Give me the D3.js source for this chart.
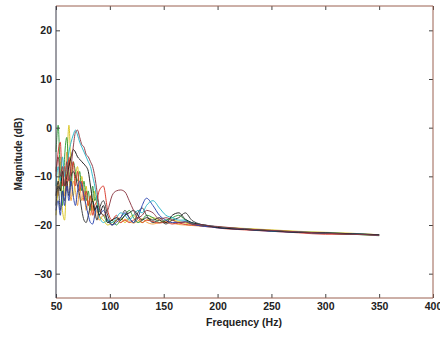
<!DOCTYPE html>
<html><head><meta charset="utf-8">
<script src="https://cdn.jsdelivr.net/npm/d3@7"></script>
<style>
html,body{margin:0;padding:0;background:#fff;}
svg{display:block;}
text{font-family:Arial,"Liberation Sans",sans-serif;font-weight:bold;fill:#222;}
</style></head>
<body>
<svg id="chart" width="440" height="342"></svg>
<script>
const freqs = [50,52,54,56,58,60,62,64,66,68,70,72,74,76,78,80,82,84,86,88,90,
  94,98,102,106,110,114,118,122,126,130,134,
  140,146,152,158,164,170,176,182,188,194,200,
  225,250,275,300,325,350];

const seriesMaroon = [-9,-6,-10,-8,-12,-7,-11,-8,-4,-1,-0.5,-2,-3.5,-4,-5.5,-6,-7,-8,-10,-13,-16,
  -18,-17,-14,-13,-12.8,-13.2,-15,-17,-18.5,-18,-17,
  -17.5,-18.8,-18.5,-19,-19.5,-19.4,-19.8,-19.9,-20,-20.2,-20.3,
  -20.8,-21.1,-21.4,-21.7,-21.9,-22.1];
const seriesBlack = [-14,-11,-13,-9,-12,-10,-8,-6,-4.5,-5,-6,-6.5,-7,-7.5,-8,-9,-12,-15,-17,-16,-18,
  -16,-19.5,-19,-18.5,-19,-18,-17.5,-17,-18,-19,-18.5,
  -19,-18.5,-19.5,-18,-17.5,-18.8,-19.5,-19.8,-20,-20.3,-20.5,
  -20.9,-21.2,-21.5,-21.6,-21.8,-22.0];
const seriesDark = [-16,-12,-17,-13,-15,-11,-14,-10,-9,-10,-12,-14,-17,-19,-19.5,-18,-16,-15,-17,-19,-17,
  -15,-18,-20,-19,-18.5,-17,-18.5,-19.5,-17.5,-16.5,-18,
  -19.5,-19,-19.8,-19,-18.5,-17.5,-19,-19.7,-20.1,-20.2,-20.4,
  -20.8,-21.2,-21.5,-21.7,-21.9,-22.0];
const seriesBlue = [-17,-15,-18,-13,-16,-12,-15,-11,-14,-16,-13,-11,-12,-14,-16,-18,-19.5,-19.8,-18,-16,-18,
  -17,-19,-20,-19.5,-18.5,-17.5,-18.5,-19.5,-18.5,-16,-14.5,
  -16,-18,-19,-19.5,-19.5,-19.3,-19.8,-20.1,-20.3,-20.4,-20.6,
  -20.9,-21.3,-21.5,-21.7,-21.8,-22.1];
const seriesCyan = [-12,-8,-11,-6,-10,-8,-5,-3,-1.5,-0.5,-1.5,-3,-4,-5,-6,-7,-8,-10,-12,-15,-18,
  -19.5,-19,-19.5,-18.5,-17.5,-18,-19,-18,-17,-17.5,-16,
  -15,-16.5,-18,-18.5,-19,-19,-19.5,-19.8,-20,-20.2,-20.4,
  -20.8,-21.2,-21.4,-21.6,-21.8,-22.0];
const seriesGreen = [-5,0.5,-10,-16,-6,-2,-9,-12,-7,-9,-11,-9,-13,-11,-15,-13,-17,-12,-15,-14,-17,
  -18,-19.5,-19,-20,-19,-18,-17,-18.5,-19.5,-19,-18,
  -18.5,-19.5,-19,-18.5,-18,-19,-19.7,-20,-20.2,-20.3,-20.5,
  -20.9,-21.2,-21.5,-21.7,-21.9,-22.2];
const seriesYellow = [-18,-12,-7,-17,-19,-8,0.5,-9,-14,-10,-8,-12,-10,-14,-12,-16,-14,-17,-13,-16,-18,
  -19,-20,-19.5,-19,-18.5,-19.5,-18.5,-18,-19,-19.5,-19,
  -18.5,-19,-19.5,-19,-19.3,-19.6,-19.8,-20,-20.2,-20.3,-20.4,
  -20.7,-21.0,-21.3,-21.5,-21.7,-22.0];
const seriesRed = [-10,-5,-3,-12,-8,-13,-6,-10,-7,-12,-9,-13,-11,-15,-13,-16,-14,-18,-16,-15,-13,
  -12,-17,-19,-18,-19.5,-19,-19.5,-19,-18.5,-19.5,-19,
  -19.3,-19.6,-19.4,-19.8,-19.6,-19.9,-20,-20.1,-20.3,-20.4,-20.6,
  -21.0,-21.3,-21.6,-21.9,-21.9,-22.1];
const seriesOrange = [-8,-14,-6,-9,-14,-5,-10,-15,-11,-13,-16,-12,-15,-13,-17,-15,-18,-16,-18.5,-17,-19,
  -18,-19,-20,-19.2,-19.5,-18.8,-19.3,-19.6,-19.2,-18.7,-19.4,
  -19.8,-19.5,-19.2,-19.6,-19.9,-20,-20.1,-20.2,-20.3,-20.4,-20.5,
  -20.9,-21.2,-21.4,-21.7,-21.8,-22.0];

const xTicks = [50,100,150,200,250,300,350,400];
const yTicks = [-30,-20,-10,0,10,20];
const xLabel = "Frequency (Hz)";
const yLabel = "Magnitude (dB)";

const series = [
  {values: seriesYellow, color: "#d9c41c"},
  {values: seriesOrange, color: "#f0a040"},
  {values: seriesGreen, color: "#2f9a3a"},
  {values: seriesRed, color: "#d8382a"},
  {values: seriesDark, color: "#3a3a3a"},
  {values: seriesBlue, color: "#2a45b0"},
  {values: seriesCyan, color: "#2ab4c8"},
  {values: seriesBlack, color: "#1a1a1a"},
  {values: seriesMaroon, color: "#8c3a46"}
];

const W = 440, H = 342;
const m = {left: 56, top: 6, right: 7, bottom: 44};
const svg = d3.select("#chart");
const x = d3.scaleLinear().domain([50, 400]).range([m.left, W - m.right]);
const y = d3.scaleLinear().domain([-35, 25]).range([H - m.bottom, m.top]);

const line = d3.line().x((d, i) => x(freqs[i])).y(d => y(d)).curve(d3.curveMonotoneX);
const g = svg.append("g");
series.forEach(s => {
  g.append("path").attr("d", line(s.values)).attr("fill", "none")
    .attr("stroke", s.color).attr("stroke-width", 1).attr("stroke-opacity", 0.95);
});

const axisStyle = (sel, labels) => {
  sel.select(".domain").remove();
  sel.selectAll(".tick line").attr("stroke", "#444");
  sel.selectAll(".tick text").style("font-size", "10.5px").style("font-weight", "bold").attr("fill", "#222");
  if (!labels) sel.selectAll(".tick text").remove();
};

svg.append("g").attr("transform", `translate(0,${H - m.bottom})`)
  .call(d3.axisBottom(x).tickValues(xTicks).tickSizeInner(-4).tickSizeOuter(0).tickPadding(5))
  .call(s => axisStyle(s, true));
svg.append("g").attr("transform", `translate(0,${m.top})`)
  .call(d3.axisTop(x).tickValues(xTicks).tickSizeInner(-4).tickSizeOuter(0))
  .call(s => axisStyle(s, false));
svg.append("g").attr("transform", `translate(${m.left},0)`)
  .call(d3.axisLeft(y).tickValues(yTicks).tickSizeInner(-4).tickSizeOuter(0).tickPadding(4))
  .call(s => axisStyle(s, true));
svg.append("g").attr("transform", `translate(${W - m.right},0)`)
  .call(d3.axisRight(y).tickValues(yTicks).tickSizeInner(-4).tickSizeOuter(0))
  .call(s => axisStyle(s, false));

// frame
svg.append("line").attr("x1", m.left).attr("x2", W - m.right).attr("y1", m.top).attr("y2", m.top).attr("stroke", "#9a6050");
svg.append("line").attr("x1", W - m.right).attr("x2", W - m.right).attr("y1", m.top).attr("y2", H - m.bottom).attr("stroke", "#9a6050");
svg.append("line").attr("x1", m.left).attr("x2", W - m.right).attr("y1", H - m.bottom).attr("y2", H - m.bottom).attr("stroke", "#9a6050");
svg.append("line").attr("x1", m.left).attr("x2", m.left).attr("y1", m.top).attr("y2", H - m.bottom).attr("stroke", "#3a3a48");

svg.append("text").attr("x", 244).attr("y", 326).attr("text-anchor", "middle")
  .style("font-size", "10.5px").text(xLabel);
svg.append("text").attr("transform", "translate(22,154) rotate(-90)").attr("text-anchor", "middle")
  .style("font-size", "10px").text(yLabel);
</script>
</body></html>
